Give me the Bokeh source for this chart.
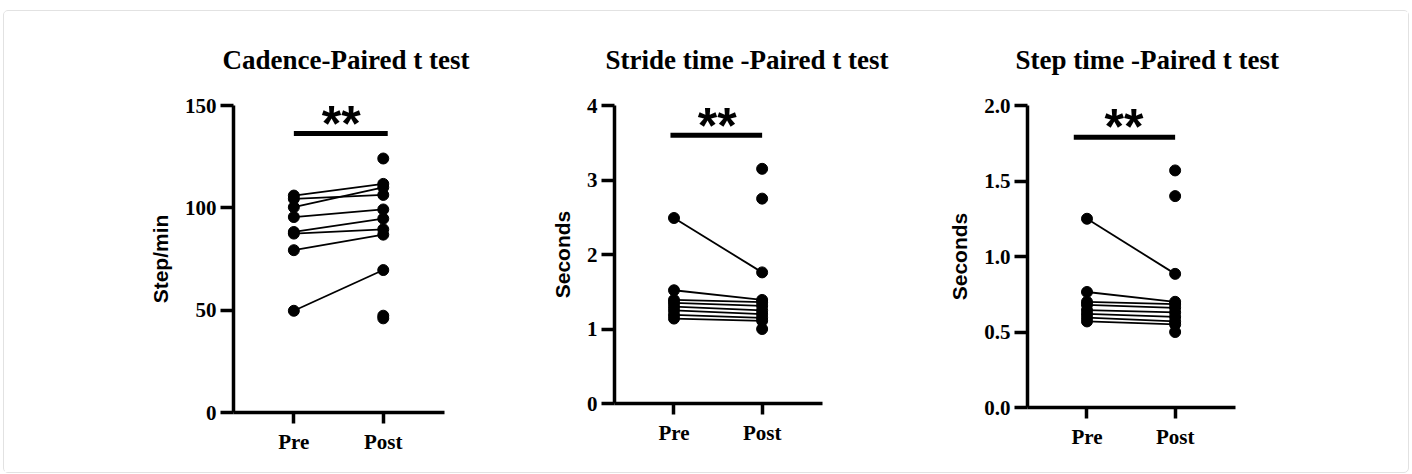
from bokeh.plotting import figure
from bokeh.layouts import row, column
from bokeh.models import FixedTicker, Label, Range1d, PrintfTickFormatter
from bokeh.embed import file_html
from bokeh.resources import INLINE

groups = ["Pre", "Post"]

# Cadence (step/min)
cad_pre = [106.0, 104.4, 100.3, 95.5, 88.2, 87.4, 79.3, 49.7]
cad_post = [111.7, 106.3, 110.0, 99.2, 94.7, 89.5, 86.9, 69.6]
cad_post_only = [124.1, 47.3, 46.0]
cad_ticks = [0, 50, 100, 150]

# Stride time (s)
stride_pre = [2.49, 1.52, 1.39, 1.35, 1.30, 1.25, 1.19, 1.14]
stride_post = [1.76, 1.39, 1.36, 1.31, 1.25, 1.20, 1.15, 1.11]
stride_post_only = [3.15, 2.75, 1.00]
stride_ticks = [0, 1, 2, 3, 4]

# Step time (s)
step_pre = [1.25, 0.765, 0.70, 0.68, 0.645, 0.62, 0.595, 0.57]
step_post = [0.885, 0.70, 0.685, 0.66, 0.63, 0.60, 0.57, 0.55]
step_post_only = [1.57, 1.40, 0.50]
step_ticks = [0.0, 0.5, 1.0, 1.5, 2.0]

titles = ["Cadence-Paired t test", "Stride time -Paired t test", "Step time -Paired t test"]
ylabels = ["Step/min", "Seconds", "Seconds"]
sig_text = "**"
sig_y = [136.3, 3.60, 1.79]
sig_x0 = [0.0, -0.04, -0.15]
sig_x1 = [1.05, 1.0, 1.0]
star_x = [0.53, 0.49, 0.42]
star_y = [141.1, 3.73, 1.857]

SERIF = "Liberation Serif"
SANS = "Liberation Sans"


def make_panel(i, pre, post, post_only, ticks, fmt, width, height, bl, br, bt, bb, title_offset):
    ymax = ticks[-1]
    p = figure(width=width, height=height, output_backend="svg", toolbar_location=None,
               x_range=Range1d(-0.675, 1.685), y_range=Range1d(0, ymax),
               min_border_left=bl, min_border_right=br, min_border_top=bt, min_border_bottom=bb)
    p.outline_line_color = None
    p.xgrid.visible = False
    p.ygrid.visible = False

    p.title.text = titles[i]
    p.title.text_font = SERIF
    p.title.text_font_style = "bold"
    p.title.text_font_size = "27px"
    p.title.text_color = "black"
    p.title.align = "left"
    p.title.offset = title_offset
    p.title.standoff = 62

    xpre = [groups.index("Pre")] * len(pre)
    xpost = [groups.index("Post")] * len(post)
    p.segment(x0=xpre, y0=pre, x1=xpost, y1=post, line_color="black", line_width=1.8)
    p.scatter(xpre, pre, size=11, color="black")
    p.scatter(xpost, post, size=11, color="black")
    p.scatter([groups.index("Post")] * len(post_only), post_only, size=11, color="black")

    p.segment(x0=[sig_x0[i]], y0=[sig_y[i]], x1=[sig_x1[i]], y1=[sig_y[i]],
              line_color="black", line_width=5, line_cap="butt")
    p.add_layout(Label(x=star_x[i], y=star_y[i], text=sig_text, text_font=SANS,
                       text_font_style="bold", text_font_size="50px", text_align="center",
                       text_baseline="middle", text_color="black"))

    for ax in (p.xaxis[0], p.yaxis[0]):
        ax.axis_line_width = 3.5
        ax.axis_line_color = "black"
        ax.major_tick_line_width = 3.5
        ax.major_tick_line_color = "black"
        ax.major_tick_in = 0
        ax.minor_tick_line_color = None
        ax.major_label_text_font = SERIF
        ax.major_label_text_font_style = "bold"
        ax.major_label_text_font_size = "21px"
        ax.major_label_text_color = "black"

    p.xaxis.ticker = FixedTicker(ticks=[0, 1])
    p.xaxis.major_label_overrides = {0: groups[0], 1: groups[1]}
    p.xaxis.major_tick_out = 11
    p.xaxis.major_label_standoff = 6

    p.yaxis.ticker = FixedTicker(ticks=ticks)
    p.yaxis.formatter = PrintfTickFormatter(format=fmt)
    p.yaxis.major_tick_out = 13
    p.yaxis.major_label_standoff = 4
    p.yaxis.axis_label = ylabels[i]
    p.yaxis.axis_label_text_font = SANS
    p.yaxis.axis_label_text_font_style = "bold"
    p.yaxis.axis_label_text_font_size = "21px"
    p.yaxis.axis_label_text_color = "black"
    p.yaxis.axis_label_standoff = 10
    return p


p1 = make_panel(0, cad_pre, cad_post, cad_post_only, cad_ticks, "%d", 512, 461, 229, 72, 92, 60, -11)
p2 = make_panel(1, stride_pre, stride_post, stride_post_only, stride_ticks, "%d", 410, 452, 98, 104, 91, 60, -9)
p3 = make_panel(2, step_pre, step_post, step_post_only, step_ticks, "%.1f", 482, 456, 101, 173, 91, 60, -12)

layout = row(column(p1), column(p2), column(p3),
             styles={"margin": "10px 0px 0px 3px", "border": "1px solid #e2e2e2",
                     "border-radius": "5px", "background-color": "white"})
open("out.html", "w").write(file_html(layout, INLINE))
